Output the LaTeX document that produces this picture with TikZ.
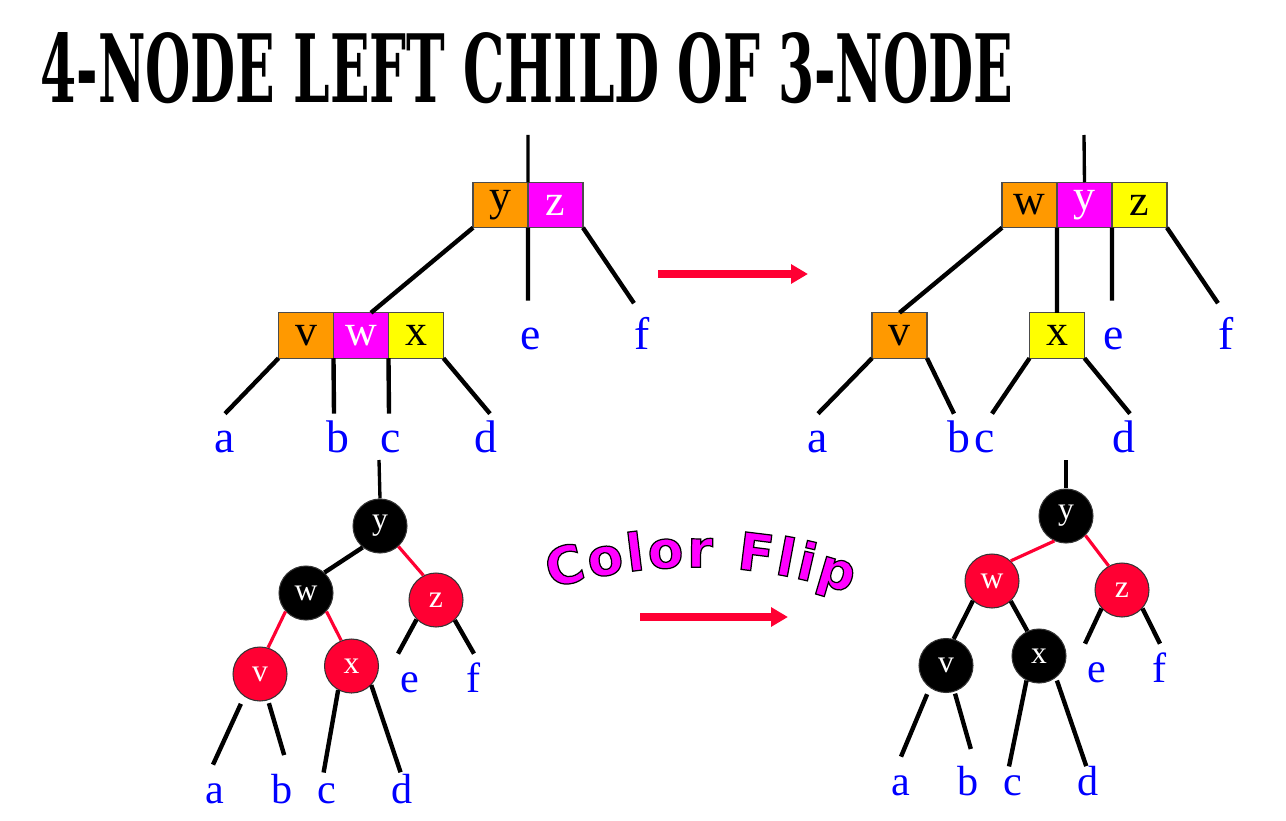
\documentclass[tikz,border=0pt]{standalone}
\usepackage{graphicx}
\usepackage{fontspec}
\setmainfont{Liberation Serif}
\newfontfamily\flipfont{DejaVu Sans}
\newfontfamily\titlefont{DejaVu Serif}
\usetikzlibrary{positioning,arrows.meta,decorations.text}

\definecolor{keyorange}{RGB}{255,153,0}
\definecolor{keymagenta}{RGB}{255,0,255}
\definecolor{keyyellow}{RGB}{255,255,0}
\definecolor{rbred}{RGB}{255,0,51}
\definecolor{leafblue}{RGB}{0,0,255}

% magenta letters with a thin black outline, spaced a little
\newcommand{\flipfmt}{\flipfont\bfseries\fontsize{29.5}{30}\selectfont\kern1.6pt\color{keymagenta}\special{pdf:literal direct 2 Tr 0 G 0.7 w}}

\begin{document}
\begin{tikzpicture}[x=0.02cm, y=-0.02cm,
  cell/.style={draw=black!70, line width=0.6pt, minimum width=1.1cm, minimum height=0.91cm, inner sep=0pt, outer sep=0pt, font=\fontsize{25}{25}\selectfont},
  rbnode/.style={circle, draw=black!80, line width=0.6pt, minimum size=1.08cm, inner sep=0pt, text=white, font=\fontsize{18}{18}\selectfont},
  blacknode/.style={rbnode, fill=black},
  rednode/.style={rbnode, fill=rbred},
  leaf/.style={text=leafblue, font=\fontsize{26}{26}\selectfont, inner sep=0pt, text height=0.76cm, text depth=0pt, anchor=base},
  lowleaf/.style={leaf, font=\fontsize{24}{24}\selectfont},
  edge/.style={line width=2.5pt},
  redge/.style={rbred, line width=1.8pt},
  stem/.style={line width=1.9pt},
  flip/.style={rbred, line width=4.5pt, -{Triangle[length=9.6pt, width=10.5pt]}}]

  \useasboundingbox (0,0) rectangle (1286,821);

  % ===== Title =====
  \node[anchor=north west, inner sep=0pt] (title) at (40,32)
    {\resizebox{19.46cm}{1.4cm}{\titlefont\bfseries 4-NODE LEFT CHILD OF 3-NODE}};

  % ===== Top left: 4-node below 3-node =====
  \coordinate (troot) at (528,135);
  \node[cell, fill=keyorange] (ty) at (500.5,205) {y};
  \node[cell, fill=keymagenta, text=white, right=0pt of ty] (tz) {z};
  \node[cell, fill=keyorange] (tv) at (306,335.5) {v};
  \node[cell, fill=keymagenta, text=white, right=0pt of tv] (tw) {w};
  \node[cell, fill=keyyellow, right=0pt of tw] (tx) {x};

  \node[leaf] (ta) at (225,452) {a};
  \node[leaf] (tb) at (337.5,452) {b};
  \node[leaf] (tc) at (391,452) {c};
  \node[leaf] (td) at (485.5,452) {d};
  \node[leaf] (te) at (530.5,349) {e};
  \node[leaf] (tf) at (642,349) {f};

  \draw[stem] (troot) -- (ty.north east);
  \draw[edge] (ty.south west) -- ([xshift=0.2cm]tw.north);
  \draw[edge, shorten >=0.2cm] (ty.south east) -- ([xshift=-0.05cm]te.north);
  \draw[edge, shorten >=0.18cm] (tz.south east) -- ([xshift=-0.06cm]tf.north);
  \draw[edge] (tv.south west) -- (ta.north);
  \draw[edge] (tv.south east) -- ([xshift=-0.07cm]tb.north);
  \draw[edge] (tw.south east) -- ([xshift=-0.04cm]tc.north);
  \draw[edge] (tx.south east) -- ([xshift=0.09cm]td.north);

  % ===== Top right: after the split =====
  \coordinate (sroot) at (1084,135);
  \node[cell, fill=keyorange] (sw) at (1029.5,205) {w};
  \node[cell, fill=keymagenta, text=white, right=0pt of sw] (sy) {y};
  \node[cell, fill=keyyellow, right=0pt of sy] (sz) {z};
  \node[cell, fill=keyorange] (sv) at (899.5,335.5) {v};
  \node[cell, fill=keyyellow] (sx) at (1057,335.5) {x};

  \node[leaf] (sa) at (818,452) {a};
  \node[leaf] (sb) at (959,452) {b};
  \node[leaf] (sc) at (985,452) {c};
  \node[leaf] (sd) at (1124,452) {d};
  \node[leaf] (se) at (1114,349) {e};
  \node[leaf] (sf) at (1226,349) {f};

  \draw[stem] (sroot) -- (sy.north);
  \draw[edge] (sw.south west) -- (sv.north);
  \draw[edge] (sw.south east) -- (sx.north);
  \draw[edge, shorten >=0.2cm] (sy.south east) -- ([xshift=-0.04cm]se.north);
  \draw[edge, shorten >=0.18cm] (sz.south east) -- ([xshift=-0.06cm]sf.north);
  \draw[edge] (sv.south west) -- (sa.north);
  \draw[edge] (sv.south east) -- ([xshift=-0.1cm]sb.north);
  \draw[edge] (sx.south west) -- ([xshift=0.14cm]sc.north);
  \draw[edge] (sx.south east) -- ([xshift=0.12cm]sd.north);

  % split arrow
  \coordinate (splitA) at (658,274);
  \coordinate (splitB) at (808,274);
  \draw[flip] (splitA) -- (splitB);

  % ===== Bottom left: red-black tree =====
  \coordinate (broot) at (379,460);
  \node[blacknode] (by) at (380,526) {y};
  \node[blacknode] (bw) at (306,593) {w};
  \node[rednode] (bz) at (436,600) {z};
  \node[rednode] (bv) at (260,674) {v};
  \node[rednode] (bx) at (351.5,666) {x};

  \node[lowleaf] (ba) at (215,803) {a};
  \node[lowleaf] (bb) at (282,803) {b};
  \node[lowleaf] (bc) at (327,803) {c};
  \node[lowleaf] (bd) at (402,803) {d};
  \node[lowleaf] (be) at (410,692) {e};
  \node[lowleaf] (bf) at (474,692) {f};

  \draw[stem] (broot) -- (by.north);
  \draw[edge] (by.231) -- (bw.48);
  \draw[redge] (by.312) -- (bz.117);
  \draw[redge] (bw.222) -- (bv.73);
  \draw[redge] (bw.318) -- (bx.112);
  \draw[edge, shorten <=0.16cm] (bv.235) -- ([xshift=-0.04cm]ba.north);
  \draw[edge, shorten <=0.06cm, shorten >=0.2cm] (bv.287) -- ([xshift=0.1cm]bb.north);
  \draw[edge, shorten >=-0.16cm] (bx.241) -- ([xshift=-0.04cm]bc.north);
  \draw[edge, shorten >=-0.16cm] (bx.316) -- ([xshift=-0.08cm]bd.north);
  \draw[edge] (bz.225) -- ([xshift=-0.24cm]be.north);
  \draw[edge] (bz.313) -- (bf.north);

  % ===== Bottom right: after the colour flip =====
  \coordinate (croot) at (1066,460);
  \node[blacknode] (cy) at (1066,516) {y};
  \node[rednode] (cw) at (992,581) {w};
  \node[rednode] (cz) at (1122,590) {z};
  \node[blacknode] (cv) at (946,665.5) {v};
  \node[blacknode] (cx) at (1039,656) {x};

  \node[lowleaf] (ca) at (901,795) {a};
  \node[lowleaf] (cb) at (968,795) {b};
  \node[lowleaf] (cc) at (1013,795) {c};
  \node[lowleaf] (cd) at (1088,795) {d};
  \node[lowleaf] (ce) at (1097,682) {e};
  \node[lowleaf] (cf) at (1160,682) {f};

  \draw[stem] (croot) -- (cy.north);
  \draw[redge] (cy.245) -- (cw.47);
  \draw[redge] (cy.315) -- (cz.119);
  \draw[edge] (cw.226) -- (cv.74);
  \draw[edge] (cw.313) -- (cx.115);
  \draw[edge, shorten <=0.14cm] (cv.234) -- (ca.north);
  \draw[edge, shorten <=0.04cm, shorten >=0.16cm] (cv.288) -- ([xshift=0.1cm]cb.north);
  \draw[edge, shorten >=-0.2cm] (cx.243) -- ([xshift=-0.04cm]cc.north);
  \draw[edge, shorten <=0.06cm, shorten >=-0.2cm] (cx.308) -- ([xshift=-0.1cm]cd.north);
  \draw[edge] (cz.222) -- ([xshift=-0.24cm]ce.north);
  \draw[edge] (cz.318) -- (cf.north);

  % colour flip arrow and its arched caption
  \coordinate (flipA) at (640,617);
  \coordinate (flipB) at (788,617);
  \draw[flip] (flipA) -- (flipB);
  \path[decorate, decoration={text along path, text align=center,
      text={|\flipfmt|Color Flip}}]
    (546,590) .. controls (648,559) and (750,559) .. (852,594);

\end{tikzpicture}
\end{document}
